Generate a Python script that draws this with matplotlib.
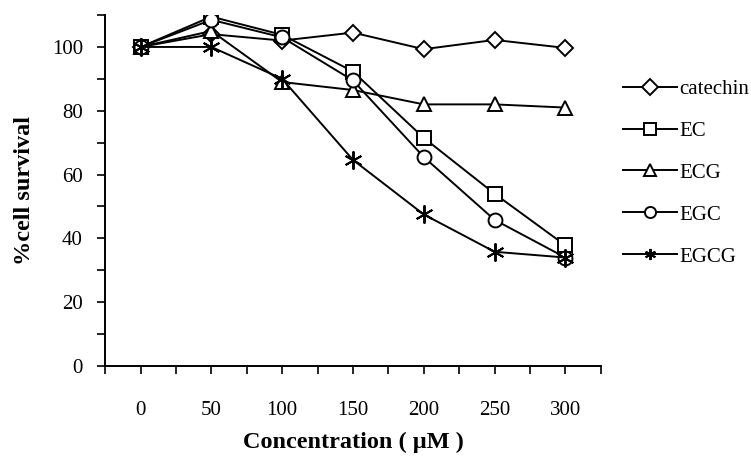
import numpy as np
import matplotlib.pyplot as plt

concentrations = ["0", "50", "100", "150", "200", "250", "300"]
catechin = [100, 104, 102, 104.5, 99.3, 102.2, 99.7]
ec = [100, 109.5, 103.8, 92.3, 71.5, 54, 37.8]
ecg = [100, 105, 89, 86.5, 82, 82, 81]
egc = [100, 108.5, 103, 89.5, 65.5, 45.8, 34]
egcg = [100, 100, 90, 64.6, 47.5, 35.8, 34]

series_names = ["catechin", "EC", "ECG", "EGC", "EGCG"]
series_values = [catechin, ec, ecg, egc, egcg]
series_markers = ["D", "s", "^", "o", (6, 2, 0)]
marker_sizes = [8, 10, 10, 10, 13]

plt.rcParams['font.family'] = ['Liberation Serif', 'DejaVu Serif']

fig = plt.figure(figsize=(7.51, 4.63), dpi=100)
ax = fig.add_axes([0.14, 0.2095, 0.66, 0.758])

x = np.arange(len(concentrations))
for name, vals, mk, ms in zip(series_names, series_values, series_markers, marker_sizes):
    ax.plot(x, vals, color='black', linewidth=1.4, marker=mk, markersize=ms,
            markerfacecolor='white', markeredgecolor='black', markeredgewidth=1.4,
            label=name)

ax.set_xlim(-0.5, len(concentrations) - 0.5)
ax.set_ylim(0, 110)

ax.set_xticks(x)
ax.set_xticklabels(concentrations)
ax.set_xticks(np.arange(-0.5, len(concentrations), 1.0), minor=True)
ax.set_yticks(range(0, 101, 20))
ax.set_yticks(range(10, 111, 20), minor=True)

ax.tick_params(axis='both', which='both', direction='out', length=6, width=1.2,
               labelsize=15)
ax.tick_params(axis='x', pad=19)
ax.tick_params(axis='y', pad=10)

for side in ['top', 'right']:
    ax.spines[side].set_visible(False)
for side in ['left', 'bottom']:
    ax.spines[side].set_linewidth(1.4)

ax.set_xlabel("Concentration ( \u03bcM )", fontsize=17.5, fontweight='bold', labelpad=9)
ax.set_ylabel("%cell survival", fontsize=17.5, fontweight='bold', labelpad=12)

leg = ax.legend(loc='center left', bbox_to_anchor=(1.044, 0.550), frameon=False,
                fontsize=15, handlelength=2.6, handletextpad=0.12,
                labelspacing=1.07, borderaxespad=0, borderpad=0)
for h in leg.legend_handles:
    h.set_markersize(8)

fig.savefig("out.png", dpi=100)
